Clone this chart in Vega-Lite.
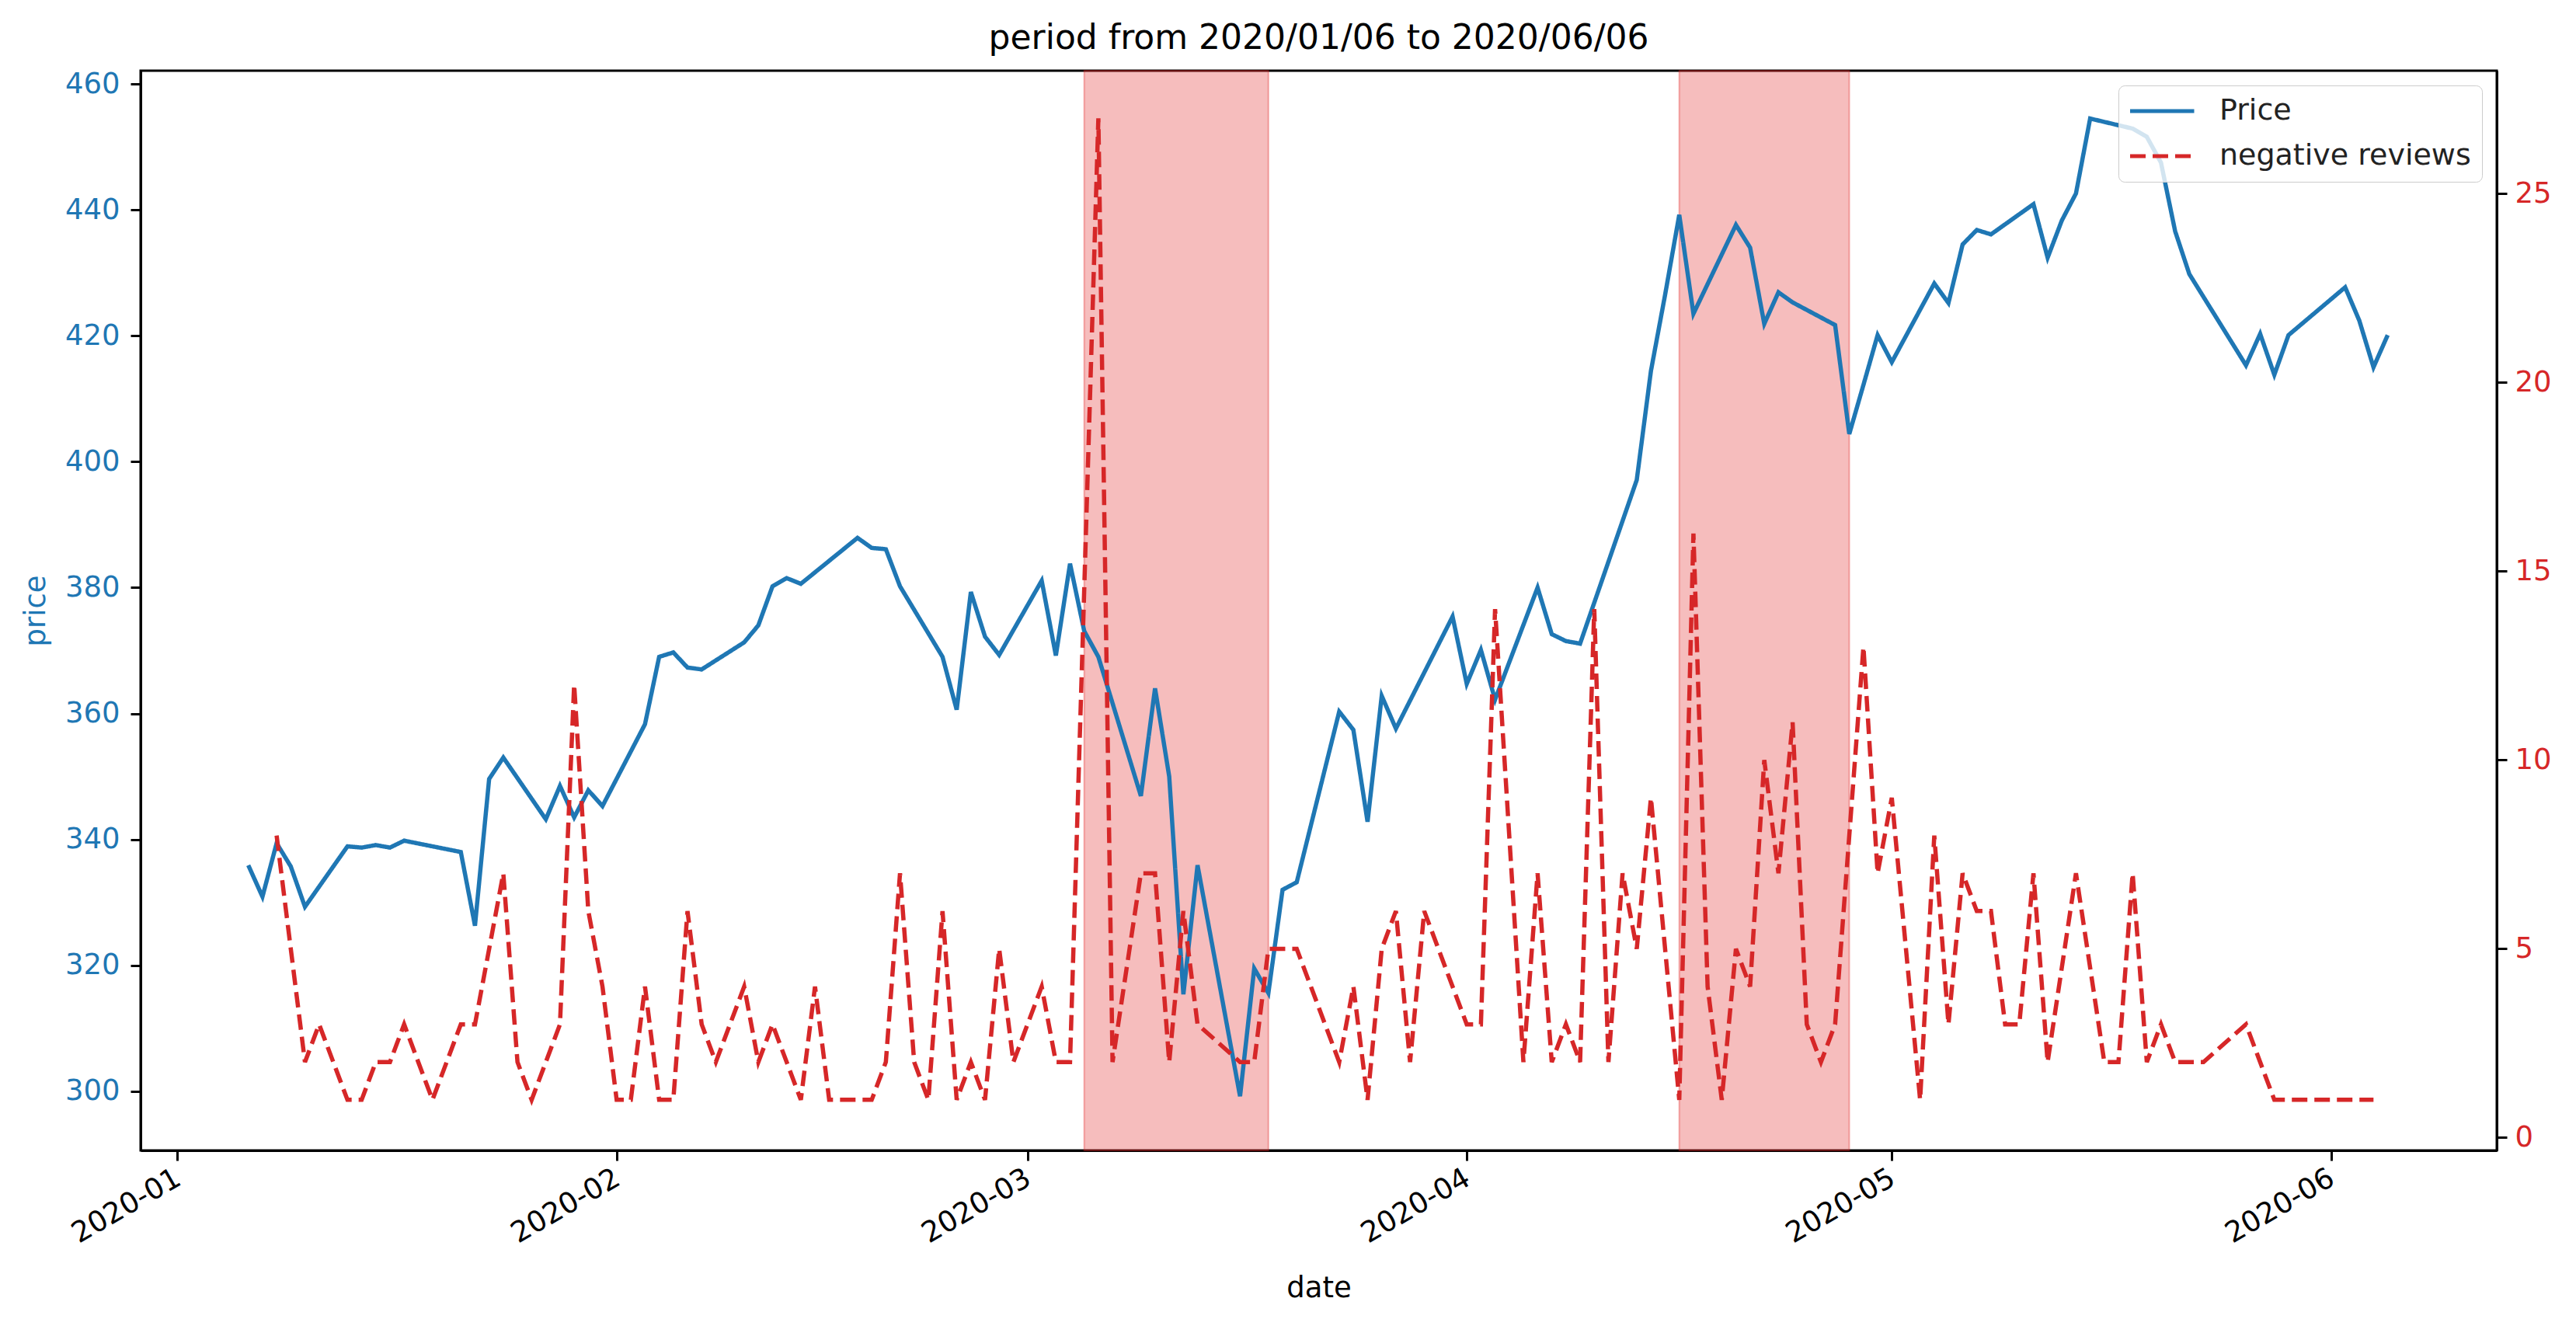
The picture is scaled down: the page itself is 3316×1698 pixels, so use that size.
{
  "$schema": "https://vega.github.io/schema/vega-lite/v6.json",
  "width": 3033,
  "height": 1390,
  "autosize": "none",
  "padding": {"left": 181, "top": 91, "right": 102, "bottom": 217},
  "background": "white",
  "config": {
    "font": "DejaVu Sans",
    "view": {"stroke": "black", "strokeWidth": 3},
    "axis": {
      "grid": false,
      "domainColor": "black",
      "domainWidth": 3,
      "tickColor": "black",
      "tickWidth": 3,
      "tickSize": 13,
      "labelFont": "DejaVu Sans",
      "labelFontSize": 37,
      "labelColor": "black",
      "titleFont": "DejaVu Sans",
      "titleFontSize": 37,
      "titleFontWeight": "normal",
      "titleColor": "black"
    },
    "legend": {
      "labelFont": "DejaVu Sans"
    }
  },
  "title": {
    "text": "period from 2020/01/06 to 2020/06/06",
    "fontSize": 44,
    "fontWeight": "normal",
    "font": "DejaVu Sans",
    "color": "black",
    "anchor": "middle",
    "frame": "group",
    "baseline": "alphabetic",
    "offset": -18
  },
  "datasets": {
    "bands": [
      {"start": "2020-03-05", "end": "2020-03-18"},
      {"start": "2020-04-16", "end": "2020-04-28"}
    ],
    "lines": [
      {"date": "2020-01-06", "series": "Price", "value": 335.9},
      {"date": "2020-01-07", "series": "Price", "value": 330.9},
      {"date": "2020-01-08", "series": "Price", "value": 339.4},
      {"date": "2020-01-09", "series": "Price", "value": 335.7},
      {"date": "2020-01-10", "series": "Price", "value": 329.3},
      {"date": "2020-01-13", "series": "Price", "value": 338.9},
      {"date": "2020-01-14", "series": "Price", "value": 338.7},
      {"date": "2020-01-15", "series": "Price", "value": 339.1},
      {"date": "2020-01-16", "series": "Price", "value": 338.7},
      {"date": "2020-01-17", "series": "Price", "value": 339.8},
      {"date": "2020-01-21", "series": "Price", "value": 338.0},
      {"date": "2020-01-22", "series": "Price", "value": 326.3},
      {"date": "2020-01-23", "series": "Price", "value": 349.6},
      {"date": "2020-01-24", "series": "Price", "value": 353.0},
      {"date": "2020-01-27", "series": "Price", "value": 343.2},
      {"date": "2020-01-28", "series": "Price", "value": 348.5},
      {"date": "2020-01-29", "series": "Price", "value": 343.5},
      {"date": "2020-01-30", "series": "Price", "value": 347.8},
      {"date": "2020-01-31", "series": "Price", "value": 345.3},
      {"date": "2020-02-03", "series": "Price", "value": 358.3},
      {"date": "2020-02-04", "series": "Price", "value": 369.0},
      {"date": "2020-02-05", "series": "Price", "value": 369.7},
      {"date": "2020-02-06", "series": "Price", "value": 367.3},
      {"date": "2020-02-07", "series": "Price", "value": 367.0},
      {"date": "2020-02-10", "series": "Price", "value": 371.3},
      {"date": "2020-02-11", "series": "Price", "value": 374.0},
      {"date": "2020-02-12", "series": "Price", "value": 380.2},
      {"date": "2020-02-13", "series": "Price", "value": 381.5},
      {"date": "2020-02-14", "series": "Price", "value": 380.6},
      {"date": "2020-02-18", "series": "Price", "value": 387.9},
      {"date": "2020-02-19", "series": "Price", "value": 386.3},
      {"date": "2020-02-20", "series": "Price", "value": 386.1},
      {"date": "2020-02-21", "series": "Price", "value": 380.2},
      {"date": "2020-02-24", "series": "Price", "value": 369.0},
      {"date": "2020-02-25", "series": "Price", "value": 360.6},
      {"date": "2020-02-26", "series": "Price", "value": 379.3},
      {"date": "2020-02-27", "series": "Price", "value": 372.2},
      {"date": "2020-02-28", "series": "Price", "value": 369.3},
      {"date": "2020-03-02", "series": "Price", "value": 381.1},
      {"date": "2020-03-03", "series": "Price", "value": 369.2},
      {"date": "2020-03-04", "series": "Price", "value": 383.8},
      {"date": "2020-03-05", "series": "Price", "value": 373.1},
      {"date": "2020-03-06", "series": "Price", "value": 369.0},
      {"date": "2020-03-09", "series": "Price", "value": 346.9},
      {"date": "2020-03-10", "series": "Price", "value": 364.0},
      {"date": "2020-03-11", "series": "Price", "value": 350.0},
      {"date": "2020-03-12", "series": "Price", "value": 315.4},
      {"date": "2020-03-13", "series": "Price", "value": 335.9},
      {"date": "2020-03-16", "series": "Price", "value": 299.2},
      {"date": "2020-03-17", "series": "Price", "value": 319.5},
      {"date": "2020-03-18", "series": "Price", "value": 315.6},
      {"date": "2020-03-19", "series": "Price", "value": 332.0},
      {"date": "2020-03-20", "series": "Price", "value": 333.2},
      {"date": "2020-03-23", "series": "Price", "value": 360.3},
      {"date": "2020-03-24", "series": "Price", "value": 357.4},
      {"date": "2020-03-25", "series": "Price", "value": 342.8},
      {"date": "2020-03-26", "series": "Price", "value": 362.8},
      {"date": "2020-03-27", "series": "Price", "value": 357.6},
      {"date": "2020-03-31", "series": "Price", "value": 375.4},
      {"date": "2020-04-01", "series": "Price", "value": 364.7},
      {"date": "2020-04-02", "series": "Price", "value": 370.1},
      {"date": "2020-04-03", "series": "Price", "value": 362.2},
      {"date": "2020-04-06", "series": "Price", "value": 380.0},
      {"date": "2020-04-07", "series": "Price", "value": 372.6},
      {"date": "2020-04-08", "series": "Price", "value": 371.5},
      {"date": "2020-04-09", "series": "Price", "value": 371.1},
      {"date": "2020-04-13", "series": "Price", "value": 397.1},
      {"date": "2020-04-14", "series": "Price", "value": 414.4},
      {"date": "2020-04-15", "series": "Price", "value": 426.5},
      {"date": "2020-04-16", "series": "Price", "value": 439.2},
      {"date": "2020-04-17", "series": "Price", "value": 423.5},
      {"date": "2020-04-20", "series": "Price", "value": 437.6},
      {"date": "2020-04-21", "series": "Price", "value": 434.0},
      {"date": "2020-04-22", "series": "Price", "value": 421.9},
      {"date": "2020-04-23", "series": "Price", "value": 426.9},
      {"date": "2020-04-24", "series": "Price", "value": 425.3},
      {"date": "2020-04-27", "series": "Price", "value": 421.7},
      {"date": "2020-04-28", "series": "Price", "value": 404.4},
      {"date": "2020-04-29", "series": "Price", "value": 412.2},
      {"date": "2020-04-30", "series": "Price", "value": 420.1},
      {"date": "2020-05-01", "series": "Price", "value": 415.8},
      {"date": "2020-05-04", "series": "Price", "value": 428.3},
      {"date": "2020-05-05", "series": "Price", "value": 425.2},
      {"date": "2020-05-06", "series": "Price", "value": 434.5},
      {"date": "2020-05-07", "series": "Price", "value": 436.8},
      {"date": "2020-05-08", "series": "Price", "value": 436.1},
      {"date": "2020-05-11", "series": "Price", "value": 440.9},
      {"date": "2020-05-12", "series": "Price", "value": 432.4},
      {"date": "2020-05-13", "series": "Price", "value": 438.3},
      {"date": "2020-05-14", "series": "Price", "value": 442.6},
      {"date": "2020-05-15", "series": "Price", "value": 454.5},
      {"date": "2020-05-18", "series": "Price", "value": 452.9},
      {"date": "2020-05-19", "series": "Price", "value": 451.6},
      {"date": "2020-05-20", "series": "Price", "value": 447.5},
      {"date": "2020-05-21", "series": "Price", "value": 436.6},
      {"date": "2020-05-22", "series": "Price", "value": 429.8},
      {"date": "2020-05-26", "series": "Price", "value": 415.3},
      {"date": "2020-05-27", "series": "Price", "value": 420.3},
      {"date": "2020-05-28", "series": "Price", "value": 413.8},
      {"date": "2020-05-29", "series": "Price", "value": 420.1},
      {"date": "2020-06-02", "series": "Price", "value": 427.7},
      {"date": "2020-06-03", "series": "Price", "value": 422.4},
      {"date": "2020-06-04", "series": "Price", "value": 415.0},
      {"date": "2020-06-05", "series": "Price", "value": 420.1},
      {"date": "2020-01-08", "series": "negative reviews", "value": 8},
      {"date": "2020-01-10", "series": "negative reviews", "value": 2},
      {"date": "2020-01-11", "series": "negative reviews", "value": 3},
      {"date": "2020-01-13", "series": "negative reviews", "value": 1},
      {"date": "2020-01-14", "series": "negative reviews", "value": 1},
      {"date": "2020-01-15", "series": "negative reviews", "value": 2},
      {"date": "2020-01-16", "series": "negative reviews", "value": 2},
      {"date": "2020-01-17", "series": "negative reviews", "value": 3},
      {"date": "2020-01-19", "series": "negative reviews", "value": 1},
      {"date": "2020-01-21", "series": "negative reviews", "value": 3},
      {"date": "2020-01-22", "series": "negative reviews", "value": 3},
      {"date": "2020-01-24", "series": "negative reviews", "value": 7},
      {"date": "2020-01-25", "series": "negative reviews", "value": 2},
      {"date": "2020-01-26", "series": "negative reviews", "value": 1},
      {"date": "2020-01-28", "series": "negative reviews", "value": 3},
      {"date": "2020-01-29", "series": "negative reviews", "value": 12},
      {"date": "2020-01-30", "series": "negative reviews", "value": 6},
      {"date": "2020-01-31", "series": "negative reviews", "value": 4},
      {"date": "2020-02-01", "series": "negative reviews", "value": 1},
      {"date": "2020-02-02", "series": "negative reviews", "value": 1},
      {"date": "2020-02-03", "series": "negative reviews", "value": 4},
      {"date": "2020-02-04", "series": "negative reviews", "value": 1},
      {"date": "2020-02-05", "series": "negative reviews", "value": 1},
      {"date": "2020-02-06", "series": "negative reviews", "value": 6},
      {"date": "2020-02-07", "series": "negative reviews", "value": 3},
      {"date": "2020-02-08", "series": "negative reviews", "value": 2},
      {"date": "2020-02-10", "series": "negative reviews", "value": 4},
      {"date": "2020-02-11", "series": "negative reviews", "value": 2},
      {"date": "2020-02-12", "series": "negative reviews", "value": 3},
      {"date": "2020-02-14", "series": "negative reviews", "value": 1},
      {"date": "2020-02-15", "series": "negative reviews", "value": 4},
      {"date": "2020-02-16", "series": "negative reviews", "value": 1},
      {"date": "2020-02-17", "series": "negative reviews", "value": 1},
      {"date": "2020-02-18", "series": "negative reviews", "value": 1},
      {"date": "2020-02-19", "series": "negative reviews", "value": 1},
      {"date": "2020-02-20", "series": "negative reviews", "value": 2},
      {"date": "2020-02-21", "series": "negative reviews", "value": 7},
      {"date": "2020-02-22", "series": "negative reviews", "value": 2},
      {"date": "2020-02-23", "series": "negative reviews", "value": 1},
      {"date": "2020-02-24", "series": "negative reviews", "value": 6},
      {"date": "2020-02-25", "series": "negative reviews", "value": 1},
      {"date": "2020-02-26", "series": "negative reviews", "value": 2},
      {"date": "2020-02-27", "series": "negative reviews", "value": 1},
      {"date": "2020-02-28", "series": "negative reviews", "value": 5},
      {"date": "2020-02-29", "series": "negative reviews", "value": 2},
      {"date": "2020-03-02", "series": "negative reviews", "value": 4},
      {"date": "2020-03-03", "series": "negative reviews", "value": 2},
      {"date": "2020-03-04", "series": "negative reviews", "value": 2},
      {"date": "2020-03-06", "series": "negative reviews", "value": 27},
      {"date": "2020-03-07", "series": "negative reviews", "value": 2},
      {"date": "2020-03-09", "series": "negative reviews", "value": 7},
      {"date": "2020-03-10", "series": "negative reviews", "value": 7},
      {"date": "2020-03-11", "series": "negative reviews", "value": 2},
      {"date": "2020-03-12", "series": "negative reviews", "value": 6},
      {"date": "2020-03-13", "series": "negative reviews", "value": 3},
      {"date": "2020-03-16", "series": "negative reviews", "value": 2},
      {"date": "2020-03-17", "series": "negative reviews", "value": 2},
      {"date": "2020-03-18", "series": "negative reviews", "value": 5},
      {"date": "2020-03-19", "series": "negative reviews", "value": 5},
      {"date": "2020-03-20", "series": "negative reviews", "value": 5},
      {"date": "2020-03-23", "series": "negative reviews", "value": 2},
      {"date": "2020-03-24", "series": "negative reviews", "value": 4},
      {"date": "2020-03-25", "series": "negative reviews", "value": 1},
      {"date": "2020-03-26", "series": "negative reviews", "value": 5},
      {"date": "2020-03-27", "series": "negative reviews", "value": 6},
      {"date": "2020-03-28", "series": "negative reviews", "value": 2},
      {"date": "2020-03-29", "series": "negative reviews", "value": 6},
      {"date": "2020-04-01", "series": "negative reviews", "value": 3},
      {"date": "2020-04-02", "series": "negative reviews", "value": 3},
      {"date": "2020-04-03", "series": "negative reviews", "value": 14},
      {"date": "2020-04-05", "series": "negative reviews", "value": 2},
      {"date": "2020-04-06", "series": "negative reviews", "value": 7},
      {"date": "2020-04-07", "series": "negative reviews", "value": 2},
      {"date": "2020-04-08", "series": "negative reviews", "value": 3},
      {"date": "2020-04-09", "series": "negative reviews", "value": 2},
      {"date": "2020-04-10", "series": "negative reviews", "value": 14},
      {"date": "2020-04-11", "series": "negative reviews", "value": 2},
      {"date": "2020-04-12", "series": "negative reviews", "value": 7},
      {"date": "2020-04-13", "series": "negative reviews", "value": 5},
      {"date": "2020-04-14", "series": "negative reviews", "value": 9},
      {"date": "2020-04-16", "series": "negative reviews", "value": 1},
      {"date": "2020-04-17", "series": "negative reviews", "value": 16},
      {"date": "2020-04-18", "series": "negative reviews", "value": 4},
      {"date": "2020-04-19", "series": "negative reviews", "value": 1},
      {"date": "2020-04-20", "series": "negative reviews", "value": 5},
      {"date": "2020-04-21", "series": "negative reviews", "value": 4},
      {"date": "2020-04-22", "series": "negative reviews", "value": 10},
      {"date": "2020-04-23", "series": "negative reviews", "value": 7},
      {"date": "2020-04-24", "series": "negative reviews", "value": 11},
      {"date": "2020-04-25", "series": "negative reviews", "value": 3},
      {"date": "2020-04-26", "series": "negative reviews", "value": 2},
      {"date": "2020-04-27", "series": "negative reviews", "value": 3},
      {"date": "2020-04-29", "series": "negative reviews", "value": 13},
      {"date": "2020-04-30", "series": "negative reviews", "value": 7},
      {"date": "2020-05-01", "series": "negative reviews", "value": 9},
      {"date": "2020-05-03", "series": "negative reviews", "value": 1},
      {"date": "2020-05-04", "series": "negative reviews", "value": 8},
      {"date": "2020-05-05", "series": "negative reviews", "value": 3},
      {"date": "2020-05-06", "series": "negative reviews", "value": 7},
      {"date": "2020-05-07", "series": "negative reviews", "value": 6},
      {"date": "2020-05-08", "series": "negative reviews", "value": 6},
      {"date": "2020-05-09", "series": "negative reviews", "value": 3},
      {"date": "2020-05-10", "series": "negative reviews", "value": 3},
      {"date": "2020-05-11", "series": "negative reviews", "value": 7},
      {"date": "2020-05-12", "series": "negative reviews", "value": 2},
      {"date": "2020-05-14", "series": "negative reviews", "value": 7},
      {"date": "2020-05-16", "series": "negative reviews", "value": 2},
      {"date": "2020-05-17", "series": "negative reviews", "value": 2},
      {"date": "2020-05-18", "series": "negative reviews", "value": 7},
      {"date": "2020-05-19", "series": "negative reviews", "value": 2},
      {"date": "2020-05-20", "series": "negative reviews", "value": 3},
      {"date": "2020-05-21", "series": "negative reviews", "value": 2},
      {"date": "2020-05-22", "series": "negative reviews", "value": 2},
      {"date": "2020-05-23", "series": "negative reviews", "value": 2},
      {"date": "2020-05-26", "series": "negative reviews", "value": 3},
      {"date": "2020-05-28", "series": "negative reviews", "value": 1},
      {"date": "2020-05-29", "series": "negative reviews", "value": 1},
      {"date": "2020-05-30", "series": "negative reviews", "value": 1},
      {"date": "2020-05-31", "series": "negative reviews", "value": 1},
      {"date": "2020-06-01", "series": "negative reviews", "value": 1},
      {"date": "2020-06-02", "series": "negative reviews", "value": 1},
      {"date": "2020-06-03", "series": "negative reviews", "value": 1},
      {"date": "2020-06-04", "series": "negative reviews", "value": 1}
    ]
  },
  "layer": [
    {
      "data": {"name": "bands"},
      "mark": {"type": "rect", "fill": "#e12626", "fillOpacity": 0.3, "stroke": "#e12626", "strokeOpacity": 0.35, "strokeWidth": 2},
      "encoding": {
        "x": {
          "field": "start", "type": "temporal",
          "scale": {"type": "utc", "domain": [{"year": 2019, "month": 12, "date": 29, "hours": 9, "minutes": 36, "utc": true}, {"year": 2020, "month": 6, "date": 12, "hours": 16, "minutes": 48, "utc": true}]},
          "axis": {
            "title": "date",
            "format": "%Y-%m",
            "values": [
              {"year": 2020, "month": 1, "date": 1, "utc": true},
              {"year": 2020, "month": 2, "date": 1, "utc": true},
              {"year": 2020, "month": 3, "date": 1, "utc": true},
              {"year": 2020, "month": 4, "date": 1, "utc": true},
              {"year": 2020, "month": 5, "date": 1, "utc": true},
              {"year": 2020, "month": 6, "date": 1, "utc": true}
            ],
            "labelAngle": -30,
            "labelAlign": "right",
            "labelBaseline": "top",
            "labelPadding": 4,
            "labelOffset": -8,
            "labelFlush": false,
            "labelOverlap": false,
            "titlePadding": 34
          }
        },
        "x2": {"field": "end"}
      }
    },
    {
      "data": {"name": "lines"},
      "transform": [{"filter": "datum.series === 'Price'"}],
      "mark": {"type": "line", "strokeWidth": 5.5},
      "encoding": {
        "x": {"field": "date", "type": "temporal", "scale": {"type": "utc"}},
        "y": {
          "field": "value", "type": "quantitative",
          "scale": {"domain": [290.6, 462.1], "nice": false, "zero": false},
          "axis": {
            "orient": "left",
            "title": "price",
            "values": [300, 320, 340, 360, 380, 400, 420, 440, 460],
            "labelColor": "#1f77b4",
            "titleColor": "#1f77b4",
            "labelPadding": 14,
            "titlePadding": 18
          }
        },
        "color": {
          "field": "series", "type": "nominal",
          "scale": {"domain": ["Price", "negative reviews"], "range": ["#1f77b4", "#d62728"]},
          "legend": {
            "title": null,
            "orient": "top-right",
            "offset": 19,
            "labelFontSize": 38,
            "labelColor": "#222222",
            "labelLimit": 0,
            "symbolType": "M-1.2,0H4.3",
            "symbolSize": 900,
            "symbolStrokeWidth": 5,
            "labelOffset": 78,
            "rowPadding": 20,
            "padding": 14,
            "strokeColor": "#cccccc",
            "fillColor": "rgba(255,255,255,0.8)",
            "cornerRadius": 8
          }
        },
        "strokeDash": {
          "field": "series", "type": "nominal",
          "scale": {"domain": ["Price", "negative reviews"], "range": [[1, 0], [20, 9]]},
          "legend": {
            "title": null,
            "orient": "top-right",
            "offset": 19,
            "labelFontSize": 38,
            "labelColor": "#222222",
            "labelLimit": 0,
            "symbolType": "M-1.2,0H4.3",
            "symbolSize": 900,
            "symbolStrokeWidth": 5,
            "labelOffset": 78,
            "rowPadding": 20,
            "padding": 14,
            "strokeColor": "#cccccc",
            "fillColor": "rgba(255,255,255,0.8)",
            "cornerRadius": 8
          }
        }
      }
    },
    {
      "data": {"name": "lines"},
      "transform": [{"filter": "datum.series === 'negative reviews'"}],
      "mark": {"type": "line", "strokeWidth": 5.5},
      "encoding": {
        "x": {"field": "date", "type": "temporal", "scale": {"type": "utc"}},
        "y": {
          "field": "value", "type": "quantitative",
          "scale": {"domain": [-0.34, 28.26], "nice": false, "zero": false},
          "axis": {
            "orient": "right",
            "title": null,
            "values": [0, 5, 10, 15, 20, 25],
            "labelColor": "#d62728",
            "labelPadding": 10
          }
        },
        "color": {"field": "series", "type": "nominal"},
        "strokeDash": {"field": "series", "type": "nominal"}
      }
    }
  ],
  "resolve": {"scale": {"y": "independent"}, "axis": {"y": "independent"}}
}
